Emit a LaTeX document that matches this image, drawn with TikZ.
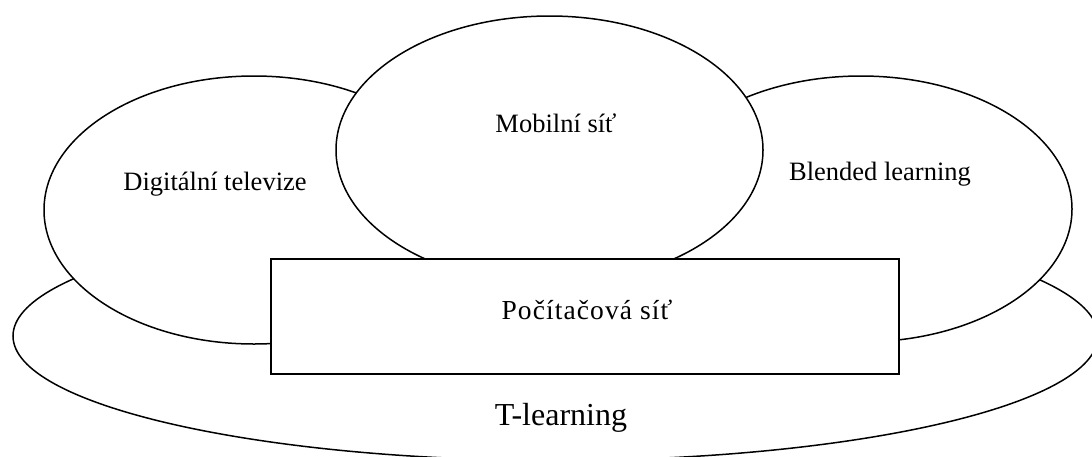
\documentclass[tikz,border=0pt]{standalone}
\usepackage{fontspec}
\setmainfont{Liberation Serif}
\usetikzlibrary{shapes.geometric}
\begin{document}
\begin{tikzpicture}[x=1pt,y=-1pt,
  area/.style={ellipse, draw, fill=white, line width=1.5pt, inner sep=0pt},
  box/.style={rectangle, draw, fill=white, line width=1.5pt, inner sep=0pt},
  tag/.style={anchor=base, inner sep=0pt, font=\fontsize{26.5}{30}\selectfont},
  widetag/.style={anchor=base, inner sep=0pt, font=\fontsize{27.5}{31}\selectfont\addfontfeature{LetterSpace=4}},
  bigtag/.style={anchor=base, inner sep=0pt, font=\fontsize{32}{36}\selectfont}]
\useasboundingbox (0,0) rectangle (1092,456);
\clip (0,0) rectangle (1092,456);

% outer area, then the three overlapping areas, then the network box on top
\node[area, minimum width=1085pt, minimum height=249pt] (tl) at (555.5,336) {};
\node[area, minimum width=420pt, minimum height=268pt] (dtv) at (254,210) {};
\node[area, minimum width=422pt, minimum height=266pt] (bl) at (861,209) {};
\node[area, minimum width=427pt, minimum height=268pt] (mob) at (549.5,150) {};
\node[box, minimum width=628pt, minimum height=115pt] (pc) at (585,316.5) {};

% captions
\node[tag] (tdtv) at (215,190) {Digitální televize};
\node[tag] (tmob) at (556,132) {Mobilní síť};
\node[tag] (tbl) at (880,180) {Blended learning};
\node[widetag] (tpc) at (587,319) {Počítačová síť};
\node[bigtag] (ttl) at (561,425) {T-learning};
\end{tikzpicture}
\end{document}
